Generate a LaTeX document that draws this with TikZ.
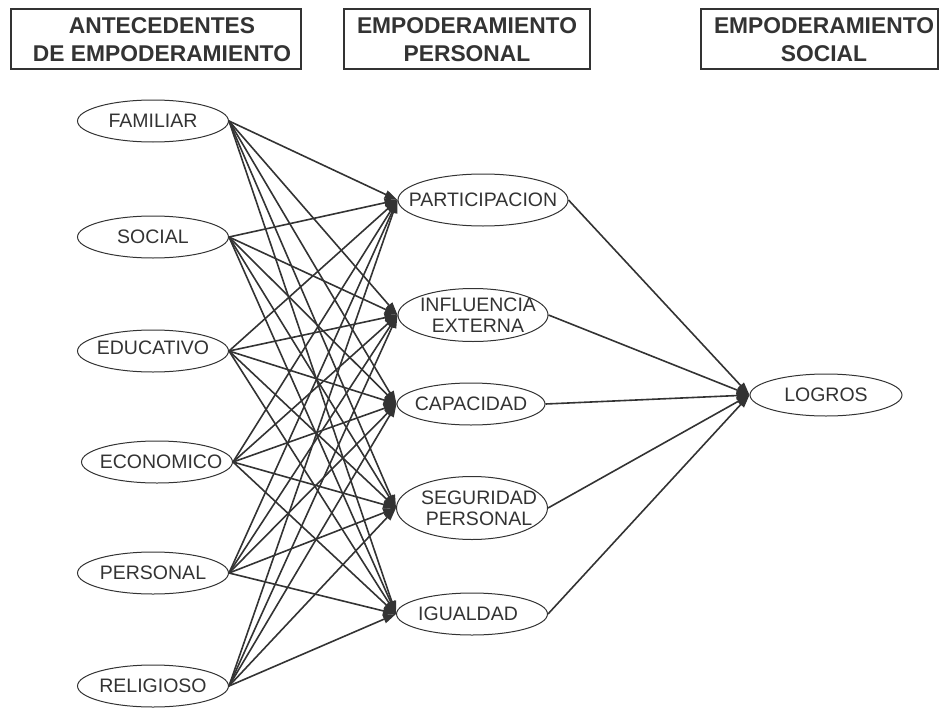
\documentclass[tikz,border=0pt]{standalone}
\usepackage{fontspec}
\setmainfont{Liberation Sans}
\usepackage{xcolor}
\usetikzlibrary{positioning, arrows.meta, shapes.geometric}

\definecolor{tinta}{HTML}{333333}

\begin{document}
\begin{tikzpicture}[
    x=1pt, y=-1pt,
    titulo/.style={draw=tinta, line width=1.1pt, text=tinta, inner sep=0pt,
      font=\bfseries\fontsize{22.8}{28}\selectfont, align=center},
    var/.style={ellipse, draw=tinta, line width=1pt, inner sep=0pt,
      minimum width=151pt, minimum height=42pt},
    etiq/.style={text=tinta, inner sep=0pt,
      font=\fontsize{19.5}{21}\selectfont, align=center},
    flecha/.style={draw=tinta, line width=1.6pt,
      -{Triangle[length=13pt,width=8.5pt]}}
  ]
  \useasboundingbox (0,0) rectangle (942,709);

  % cabeceras
  \draw[titulo] (11,9) rectangle (301,69);
  \draw[titulo] (344,9) rectangle (590,69);
  \draw[titulo] (701,9) rectangle (938,69);
  \node[titulo, draw=none] (tant) at (162,40) {ANTECEDENTES\\DE EMPODERAMIENTO};
  \node[titulo, draw=none] (tper) at (467,40) {EMPODERAMIENTO\\PERSONAL};
  \node[titulo, draw=none] (tsoc) at (824,40) {EMPODERAMIENTO\\SOCIAL};

  % antecedentes
  \node[var, label={[etiq]center:FAMILIAR}] (fam) at (153,121) {};
  \node[var, label={[etiq]center:SOCIAL}] (soc) at (153,237) {};
  \node[var, label={[etiq, yshift=3pt]center:EDUCATIVO}] (edu) at (153,351) {};
  \node[var, label={[etiq, xshift=4pt]center:ECONOMICO}] (eco) at (157,462) {};
  \node[var, label={[etiq]center:PERSONAL}] (per) at (153,573) {};
  \node[var, label={[etiq]center:RELIGIOSO}] (rel) at (153,686) {};

  % empoderamiento personal
  \node[var, minimum width=170pt, minimum height=52pt,
    label={[etiq]center:PARTICIPACION}] (par) at (483,200) {};
  \node[var, minimum width=150pt, minimum height=53pt,
    label={[etiq, xshift=5pt]center:{INFLUENCIA\\EXTERNA}}] (inf) at (473,315) {};
  \node[var, minimum width=148pt,
    label={[etiq]center:CAPACIDAD}] (cap) at (471,404) {};
  \node[var, minimum width=151pt, minimum height=63pt,
    label={[etiq, xshift=7pt]center:{SEGURIDAD\\PERSONAL}}] (seg) at (472,508) {};
  \node[var, label={[etiq, xshift=-4pt]center:IGUALDAD}] (igu) at (472,614) {};

  % empoderamiento social
  \node[var, minimum width=152pt, label={[etiq]center:LOGROS}] (log) at (826,395) {};

  \foreach \a in {fam,soc,edu,eco,per,rel}
    \foreach \b in {par,inf,cap,seg,igu}
      \draw[flecha] (\a.east) -- (\b.west);

  \foreach \b in {par,inf,cap,seg,igu}
    \draw[flecha] (\b.east) -- (log.west);
\end{tikzpicture}
\end{document}
